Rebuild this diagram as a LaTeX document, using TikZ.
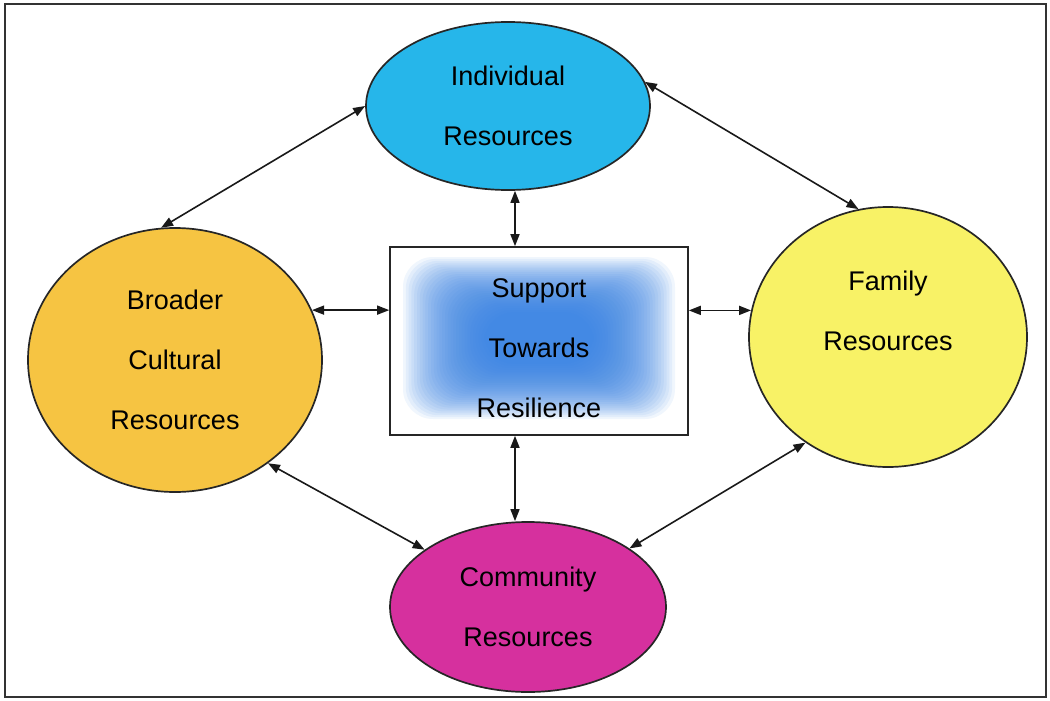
\documentclass[tikz,border=0pt]{standalone}
\usepackage{fontspec}
\setmainfont{Liberation Sans}
\usetikzlibrary{shapes.geometric,arrows.meta}
\definecolor{indc}{RGB}{38,182,234}
\definecolor{broc}{RGB}{246,196,66}
\definecolor{famc}{RGB}{248,242,102}
\definecolor{comc}{RGB}{214,48,158}
\definecolor{glow}{RGB}{50,128,228}
\begin{document}
\begin{tikzpicture}[x=1pt,y=-1pt,
  res/.style={ellipse, draw=black!85, line width=1.7pt, inner sep=0pt},
  lbl/.style={align=center, font=\fontsize{27}{60}\selectfont, text=black},
  glowlayer/.style={fill=glow, fill opacity=0.07, rounded corners=30pt},
  arr/.style={{Triangle[length=12pt,width=9pt]}-{Triangle[length=12pt,width=9pt]}, line width=1.6pt, draw=black!90}]
\useasboundingbox (0,0) rectangle (1050,701);
\draw[black!80, line width=1.8pt] (5,4) rectangle (1046,697);

\node[res, fill=indc, minimum width=284pt, minimum height=168pt, lbl] (ind) at (508,106) {Individual\\Resources};
\node[res, fill=broc, minimum width=294pt, minimum height=264pt, lbl] (bro) at (175,360) {Broader\\Cultural\\Resources};
\node[res, fill=famc, minimum width=278pt, minimum height=260pt] (fam) at (888,337) {};
\node[lbl] (famtext) at (888,311) {Family\\Resources};
\node[res, fill=comc, minimum width=276pt, minimum height=170pt, lbl] (com) at (528,607) {Community\\Resources};
\node[draw=black!85, line width=1.6pt, fill=white, minimum width=298pt, minimum height=188pt, inner sep=0pt] (box) at (539,341) {};
\foreach \i in {0,...,29} {
  \path[glowlayer] ([shift={(-136+2.8*\i,-84+1.9*\i)}]box.center) rectangle ([shift={(136-2.8*\i,78-1.9*\i)}]box.center);
}
\node[lbl] (boxtext) at (539,348) {Support\\Towards\\Resilience};

\draw[arr] (ind.west) -- (bro.96);
\draw[arr] (ind.10) -- (fam.103);
\draw[arr] ([xshift=7pt]ind.south) -- ([xshift=7pt]ind.south |- box.north);
\draw[arr] (bro.20) -- (bro.20 -| box.west);
\draw[arr] (box.east |- fam.169) -- (fam.169);
\draw[arr] ([xshift=-24pt]box.south) -- ([xshift=-24pt]box.south |- com.north);
\draw[arr] (bro.-48) -- (com.151);
\draw[arr] (fam.-128) -- (com.30);
\end{tikzpicture}
\end{document}
